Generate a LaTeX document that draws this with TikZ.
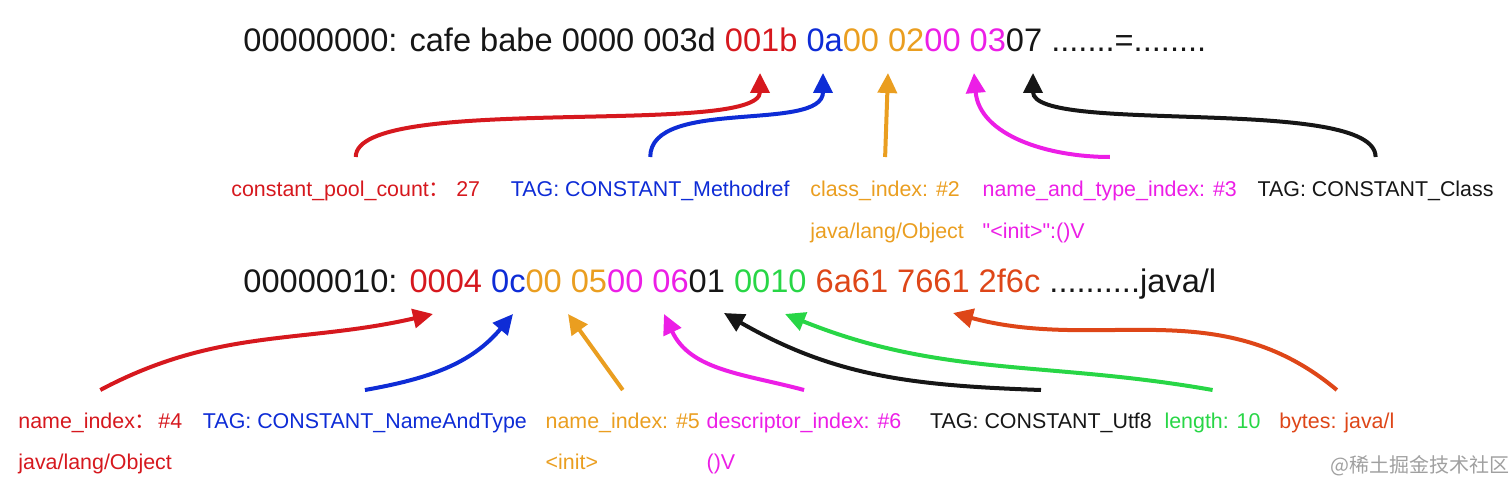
\documentclass[tikz,border=0pt]{standalone}
\usepackage{fontspec}
\setmainfont{Liberation Sans}
\newfontfamily\cjk{Noto Sans CJK SC}
\newcommand{\dq}{{\addfontfeatures{Ligatures=TeXOff}"}}
\usetikzlibrary{arrows.meta,positioning}

\definecolor{cpred}{RGB}{214,24,30}
\definecolor{cpblue}{RGB}{14,44,214}
\definecolor{cporange}{RGB}{234,158,32}
\definecolor{cpmag}{RGB}{236,30,230}
\definecolor{cpgreen}{RGB}{40,214,70}
\definecolor{cpbyte}{RGB}{222,70,24}
\definecolor{cpblack}{RGB}{22,22,22}
\definecolor{wmgray}{RGB}{160,160,160}

\begin{document}
\begin{tikzpicture}[
  x=0.5pt, y=0.5pt,
  hex/.style={anchor=base west, inner sep=0pt, text=cpblack,
              font=\fontsize{16.3}{20}\selectfont},
  lbl/.style={anchor=base west, inner sep=0pt,
              font=\fontsize{10.7}{13}\selectfont},
  link/.style={line width=2pt, -{Triangle[length=10pt,width=9.5pt]}},
  >={Triangle[]}]
\useasboundingbox (0,0) rectangle (1512,494);

% the two lines of the hex dump
\node[hex] (rowA) at (243,443) {00000000: cafe babe 0000 003d
  \textcolor{cpred}{001b} \textcolor{cpblue}{0a}\textcolor{cporange}{00 02}%
  \textcolor{cpmag}{00 03}07 .......=........};
\node[hex] (rowB) at (243,202) {00000010: \textcolor{cpred}{0004}
  \textcolor{cpblue}{0c}\textcolor{cporange}{00 05}\textcolor{cpmag}{00 06}01
  \textcolor{cpgreen}{0010} \textcolor{cpbyte}{6a61 7661 2f6c} ..........java/l};

% labels under the first line
\node[lbl, text=cpred] (cnt) at (231,298) {constant\_pool\_count{\cjk ：}\hspace{3pt}27};
\node[lbl, text=cpblue, base right=15pt of cnt] (mref) {TAG: CONSTANT\_Methodref};
\node[lbl, text=cporange, base right=10pt of mref] (cls) {class\_index: \#2};
\node[lbl, text=cpmag, base right=11pt of cls] (nat) {name\_and\_type\_index: \#3};
\node[lbl, text=cpblack, base right=10pt of nat] (ctag) {TAG: CONSTANT\_Class};
\node[lbl, text=cporange] (clsv) at ([yshift=-21pt]cls.base west) {java/lang/Object};
\node[lbl, text=cpmag] (natv) at ([yshift=-21pt]nat.base west) {\dq<init>\dq:()V};

% labels under the second line
\node[lbl, text=cpred] (nidx) at (18,66) {name\_index{\cjk ：}\hspace{1pt}\#4};
\node[lbl, text=cpblue, base right=10pt of nidx] (ntag) {TAG: CONSTANT\_NameAndType};
\node[lbl, text=cporange, base right=9pt of ntag] (nidx2) {name\_index: \#5};
\node[lbl, text=cpmag, base right=3pt of nidx2] (didx) {descriptor\_index: \#6};
\node[lbl, text=cpblack, base right=14pt of didx] (utag) {TAG: CONSTANT\_Utf8};
\node[lbl, text=cpgreen, base right=6pt of utag] (len) {length: 10};
\node[lbl, text=cpbyte, base right=9pt of len] (bytes) {bytes: java/l};
\node[lbl, text=cpred] (nidxv) at ([yshift=-20.5pt]nidx.base west) {java/lang/Object};
\node[lbl, text=cporange] (nidx2v) at ([yshift=-20.5pt]nidx2.base west) {<init>};
\node[lbl, text=cpmag] (didxv) at ([yshift=-20.5pt]didx.base west) {()V};

\node[text=wmgray, font=\cjk\fontsize{10}{12}\selectfont] (wm) at (1420,28)
  {@稀土掘金技术社区};

% where the arrows point
\coordinate (a1) at (760,421);
\coordinate (a2) at (823,421);
\coordinate (a3) at (888,421);
\coordinate (a4) at (974,421);
\coordinate (a5) at (1033,421);
\coordinate (b1) at (433,180);
\coordinate (b2) at (513,180);
\coordinate (b3) at (568,180);
\coordinate (b4) at (664,180);
\coordinate (b5) at (724,181);
\coordinate (b6) at (785,180);
\coordinate (b7) at (953,181);

\draw[link, cpred] ([yshift=19.5pt]cnt.base) to[out=90, in=-90, looseness=.4] (a1);
\draw[link, cpblue] ([yshift=19.5pt]mref.base) to[out=90, in=-90, looseness=.8] (a2);
\draw[link, cporange] ([yshift=19.5pt]cls.base) -- (a3);
\draw[link, cpmag] ([yshift=19.5pt]nat.base) to[out=180, in=-85] (a4);
\draw[link, cpblack] ([yshift=19.5pt]ctag.base) to[out=90, in=-90, looseness=.45] (a5);

\draw[link, cpred] ([yshift=19pt]nidx.base) to[out=28, in=193] (b1);
\draw[link, cpblue] ([yshift=19pt]ntag.base) to[out=10, in=230] (b2);
\draw[link, cporange] ([yshift=19pt]nidx2.base) -- (b3);
\draw[link, cpmag] ([yshift=19pt]didx.base) to[out=165, in=-65] (b4);
\draw[link, cpblack] ([yshift=19pt]utag.base) to[out=178, in=-30] (b5);
\draw[link, cpgreen] ([yshift=19pt]len.base) to[out=170, in=-22] (b6);
\draw[link, cpbyte] ([yshift=19pt]bytes.base) to[out=140, in=-15] (b7);
\end{tikzpicture}
\end{document}
